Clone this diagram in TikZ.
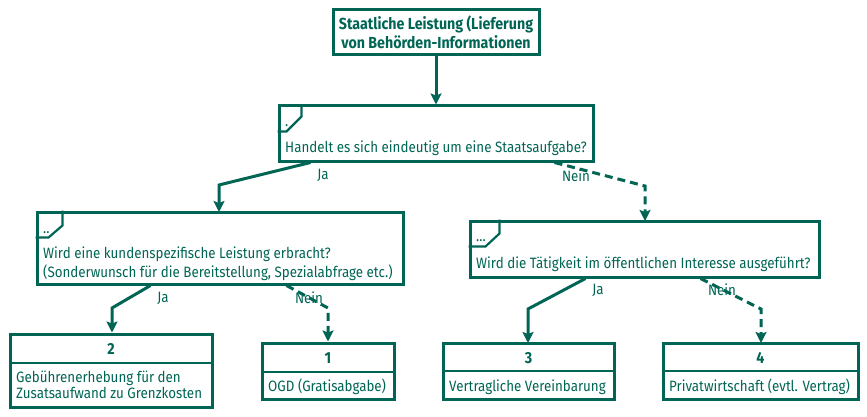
\documentclass[tikz,border=0pt]{standalone}
\usepackage{fontspec}
\setmainfont{Fira Sans}[FakeStretch=0.89]
\usetikzlibrary{arrows.meta,calc}
\definecolor{teal}{RGB}{0,101,84}
\tikzset{
  box/.style={draw=teal, line width=3pt, rectangle, inner sep=0pt},
  txt/.style={text=teal, inner sep=0pt, font=\fontsize{15}{17}\selectfont},
  bold/.style={text=teal, inner sep=0pt, font=\fontsize{16}{19}\selectfont\bfseries},
  conn/.style={draw=teal, line width=3pt, -{Stealth[length=11pt,width=11pt,inset=2pt]}},
  dconn/.style={conn, dash pattern=on 8pt off 5pt},
  lbl/.style={txt}
}
\begin{document}
\begin{tikzpicture}[x=1pt,y=-1pt]
\useasboundingbox (0,0) rectangle (867,417);
% boxes
\node[box, minimum width=206pt, minimum height=45pt] (top) at (436,32.5) {};
\node[bold, align=center] (toptxt) at (436,32.5) {Staatliche Leistung (Lieferung\\von Behörden-Informationen};

\node[box, minimum width=314pt, minimum height=55pt] (q1) at (436,133.5) {};
\draw[teal, line width=2.2pt] ($(q1.north west)+(24,0)$) -- ++(0,12) -- ++(-15,15) -- ($(q1.north west)+(0,27)$);
\node[txt, anchor=base west] (q1d) at (285,127) {.};
\node[txt, anchor=base west] (q1t) at (285,152) {Handelt es sich eindeutig um eine Staatsaufgabe?};

\node[box, minimum width=366pt, minimum height=72pt] (q2) at (220,248) {};
\draw[teal, line width=2.2pt] ($(q2.north west)+(27,0)$) -- ++(0,15) -- ++(-14,12) -- ($(q2.north west)+(0,27)$);
\node[txt, anchor=base west] (q2d) at (43,233) {..};
\node[txt, anchor=base west] (q2t1) at (43,258) {Wird eine kundenspezifische Leistung erbracht?};
\node[txt, anchor=base west] (q2t2) at (43,277) {(Sonderwunsch für die Bereitstellung, Spezialabfrage etc.)};

\node[box, minimum width=349pt, minimum height=56pt] (q3) at (644.5,249) {};
\draw[teal, line width=2.2pt] ($(q3.north west)+(31,0)$) -- ++(0,14) -- ++(-14,13) -- ($(q3.north west)+(0,27)$);
\node[txt, anchor=base west] (q3d) at (476,241) {...};
\node[txt, anchor=base west] (q3t) at (476,268) {Wird die Tätigkeit im öffentlichen Interesse ausgeführt?};

% result boxes
\node[box, minimum width=202pt, minimum height=73pt] (b2) at (111,370.5) {};
\draw[teal, line width=2.2pt] (b2.west |- 0,363) -- (b2.east |- 0,363);
\node[bold] (b2n) at (111,349) {2};
\node[txt, anchor=base west] (b2t1) at (16,382) {Gebührenerhebung für den};
\node[txt, anchor=base west] (b2t2) at (16,398) {Zusatsaufwand zu Grenzkosten};

\node[box, minimum width=132pt, minimum height=56pt] (b1) at (328,371) {};
\draw[teal, line width=2.2pt] (b1.west |- 0,372) -- (b1.east |- 0,372);
\node[bold] (b1n) at (328,358) {1};
\node[txt, anchor=base west] (b1t) at (268,391) {OGD (Gratisabgabe)};

\node[box, minimum width=171pt, minimum height=56pt] (b3) at (528.5,371) {};
\draw[teal, line width=2.2pt] (b3.west |- 0,371) -- (b3.east |- 0,371);
\node[bold] (b3n) at (528.5,358) {3};
\node[txt, anchor=base west] (b3t) at (449,391) {Vertragliche Vereinbarung};

\node[box, minimum width=195pt, minimum height=56pt] (b4) at (760.5,371) {};
\draw[teal, line width=2.2pt] (b4.west |- 0,371) -- (b4.east |- 0,371);
\node[bold] (b4n) at (760.5,358) {4};
\node[txt, anchor=base west] (b4t) at (669,391) {Privatwirtschaft (evtl. Vertrag)};

% connectors
\draw[conn] (top.south) -- (q1.north);
\draw[conn] ($(q1.south west)+(33,0)$) -- (219,185) -- (219,212);
\draw[dconn] ($(q1.south west)+(277,0)$) -- (645,186) -- (645,221);
\draw[conn] ($(q2.south west)+(115,0)$) -- (112,308) -- (b2.north -| 112,0);
\draw[dconn] ($(q2.south west)+(251,0)$) -- (328,308) -- (b1.north);
\draw[conn] ($(q3.south west)+(117,0)$) -- (528,309) -- (528,343);
\draw[dconn] ($(q3.south west)+(232,0)$) -- (761,309) -- (761,343);

% labels
\node[lbl] (l1) at (323,175) {Ja};
\node[lbl] (l2) at (576,176) {Nein};
\node[lbl] (l3) at (163,298) {Ja};
\node[lbl] (l4) at (309,298) {Nein};
\node[lbl] (l5) at (598,290) {Ja};
\node[lbl] (l6) at (722,290) {Nein};
\end{tikzpicture}
\end{document}
